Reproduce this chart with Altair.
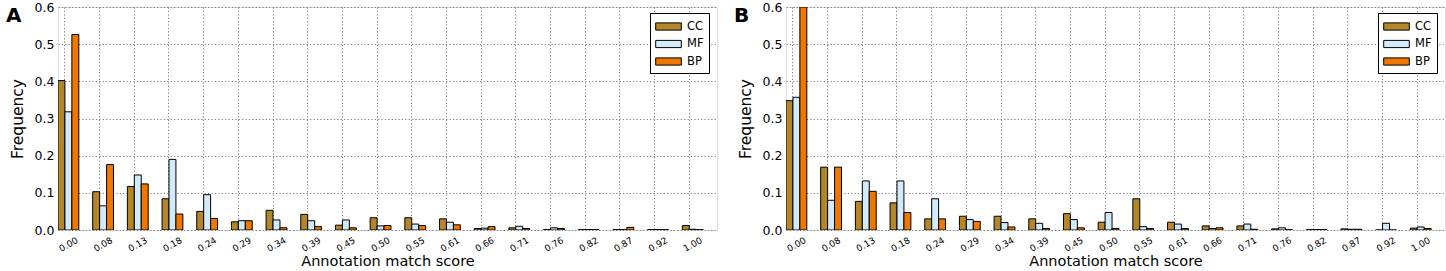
import altair as alt
import pandas as pd

scores = ["0.00", "0.08", "0.13", "0.18", "0.24", "0.29", "0.34", "0.39", "0.45", "0.50",
          "0.55", "0.61", "0.66", "0.71", "0.76", "0.82", "0.87", "0.92", "1.00"]
series = ["CC", "MF", "BP"]
colors = ["#B4862A", "#D2EBFA", "#F07800"]

cc_a = [0.402, 0.103, 0.117, 0.084, 0.050, 0.022, 0.053, 0.042, 0.013, 0.033,
        0.033, 0.030, 0.004, 0.006, 0.001, 0.001, 0.001, 0.001, 0.012]
mf_a = [0.318, 0.065, 0.148, 0.190, 0.095, 0.025, 0.027, 0.025, 0.027, 0.011,
        0.016, 0.021, 0.005, 0.010, 0.006, 0.001, 0.001, 0.001, 0.002]
bp_a = [0.526, 0.176, 0.124, 0.043, 0.031, 0.025, 0.006, 0.009, 0.006, 0.012,
        0.012, 0.014, 0.009, 0.004, 0.004, 0.001, 0.007, 0.001, 0.001]

cc_b = [0.348, 0.169, 0.077, 0.073, 0.030, 0.037, 0.037, 0.030, 0.044, 0.021,
        0.084, 0.021, 0.011, 0.011, 0.003, 0.001, 0.003, 0.000, 0.005]
mf_b = [0.357, 0.080, 0.132, 0.132, 0.084, 0.028, 0.020, 0.018, 0.028, 0.047,
        0.009, 0.016, 0.004, 0.016, 0.006, 0.001, 0.002, 0.018, 0.008]
bp_b = [0.600, 0.169, 0.104, 0.047, 0.030, 0.023, 0.008, 0.004, 0.006, 0.004,
        0.004, 0.004, 0.006, 0.002, 0.001, 0.001, 0.002, 0.000, 0.004]


def make_df(cc, mf, bp):
    rows = []
    for s, vals in zip(series, [cc, mf, bp]):
        for sc, v in zip(scores, vals):
            rows.append({"score": sc, "series": s, "freq": v})
    return pd.DataFrame(rows)


FONT = "DejaVu Sans"
W, H = 659, 223


def panel(df, letter):
    bars = alt.Chart(df).mark_bar(stroke="black", strokeWidth=1, clip=True).encode(
        x=alt.X("score:O", sort=scores,
                scale=alt.Scale(paddingInner=0.4, paddingOuter=0.2, align=0),
                axis=alt.Axis(title="Annotation match score", bandPosition=1 / 3,
                              labelAngle=-30, labelAlign="center", labelBaseline="middle",
                              labelPadding=14, labelFontSize=9, ticks=False, domain=False,
                              titleFontSize=14.5, titleFontWeight="normal", titlePadding=1,
                              grid=True, gridColor="#7a7a7a", gridDash=[1.2, 2.2],
                              gridWidth=1)),
        xOffset=alt.XOffset("series:N", sort=series,
                            scale=alt.Scale(paddingInner=0, paddingOuter=0)),
        y=alt.Y("freq:Q", scale=alt.Scale(domain=[0, 0.6], nice=False),
                axis=alt.Axis(title="Frequency", values=[0, 0.1, 0.2, 0.3, 0.4, 0.5, 0.6],
                              format=".1f", labelFontSize=12.5, labelPadding=4,
                              ticks=False, domain=False, titleFontSize=15.5,
                              titleFontWeight="normal", titlePadding=9,
                              grid=True, gridColor="#7a7a7a", gridDash=[1.2, 2.2],
                              gridWidth=1)),
        color=alt.Color("series:N", sort=series,
                        scale=alt.Scale(domain=series, range=colors),
                        legend=alt.Legend(title=None, orient="none", legendX=592,
                                          legendY=6, direction="vertical",
                                          strokeColor="black", fillColor="white",
                                          padding=5, rowPadding=2.5,
                                          symbolType="M-1.6,-0.45H1.6V0.45H-1.6Z",
                                          symbolSize=256, symbolStrokeColor="black",
                                          symbolStrokeWidth=1, symbolOpacity=1,
                                          symbolOffset=5, labelOffset=10,
                                          labelFontSize=11.5, labelFont=FONT,
                                          cornerRadius=0)),
    )
    lab = alt.Chart(pd.DataFrame({"t": [letter]})).mark_text(
        fontSize=20, fontWeight="bold", align="left", baseline="alphabetic", font=FONT
    ).encode(text="t:N", x=alt.value(-52), y=alt.value(14.5))
    return alt.layer(bars, lab).properties(width=W, height=H)


chart = alt.hconcat(
    panel(make_df(cc_a, mf_a, bp_a), "A"),
    panel(make_df(cc_b, mf_b, bp_b), "B"),
    spacing=15,
).resolve_scale(color="independent").properties(
    padding={"left": 5, "top": 0, "right": 0, "bottom": 0}
).configure_view(stroke="black", strokeWidth=1).configure(
    font=FONT
).configure_axis(labelFont=FONT, titleFont=FONT, labelColor="black", titleColor="black")

chart.save("out.html", embed_options={"renderer": "svg", "actions": False})
